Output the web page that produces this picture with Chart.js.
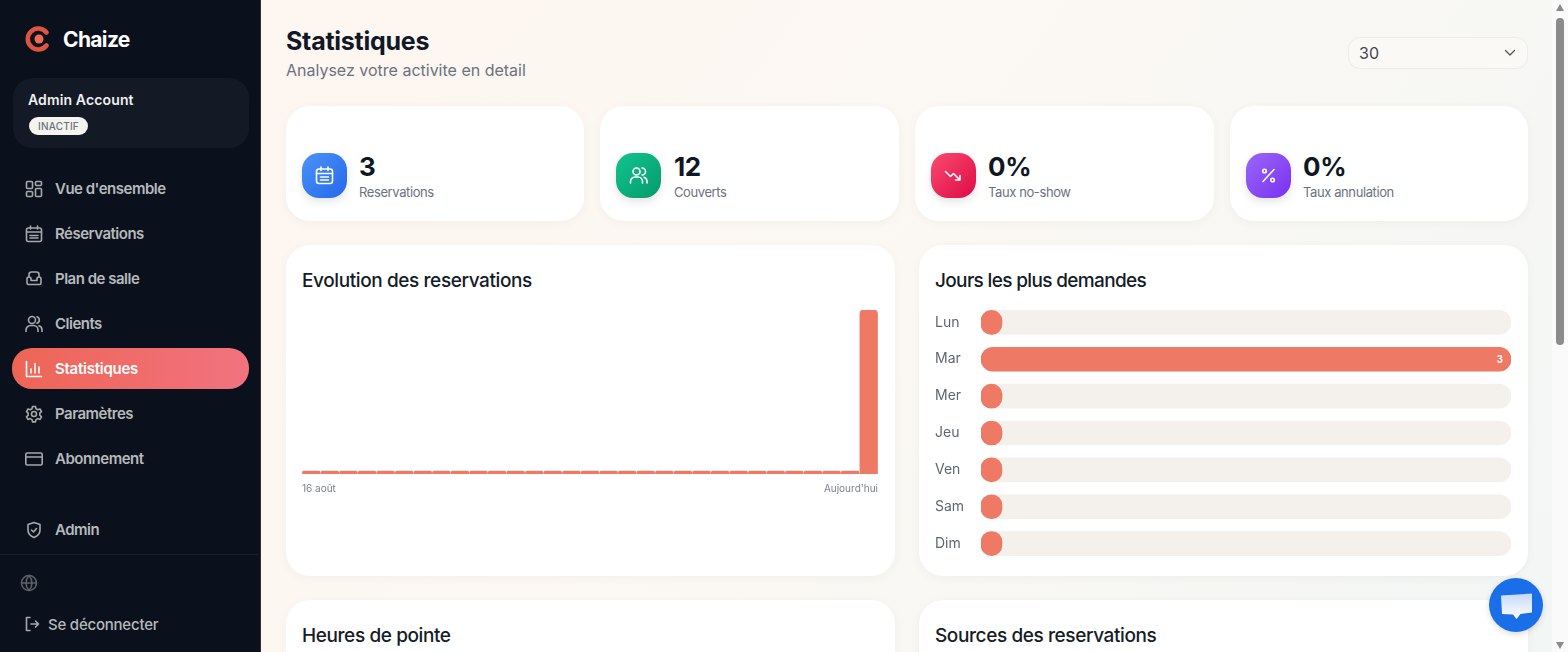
<!DOCTYPE html>
<html lang="fr">
<head>
<meta charset="utf-8">
<title>Statistiques</title>
<script src="https://cdn.jsdelivr.net/npm/chart.js@4"></script>
<style>
    * { box-sizing: border-box; margin: 0; padding: 0; }
    html, body { width: 1568px; height: 652px; overflow: hidden; background: #fff; font-family: Inter, "Noto Sans", sans-serif; }
    .sidebar { position: absolute; left: 0; top: 0; width: 261px; height: 652px; background: #0b111c; border-right: 1px solid #2c313a; }
    .main { position: absolute; left: 261px; top: 0; width: 1291px; height: 652px; background: linear-gradient(125deg, #fef6f0 0%, #fbf8f3 50%, #f2f6f5 100%); }
    .scrollbar { position: absolute; left: 1552px; top: 0; width: 16px; height: 652px; background: #fafafa; }
    .thumb { position: absolute; left: 4px; top: 18px; width: 8px; height: 327px; border-radius: 4px; background: #8b8b8b; }
    .arrow { position: absolute; left: 4px; width: 0; height: 0; border-left: 4.5px solid transparent; border-right: 4.5px solid transparent; }
    .brand { position: absolute; left: 63px; top: 26px; color: #fff; font-size: 21px; font-weight: 700; letter-spacing: -0.65px; line-height: 28px; }
    .account { position: absolute; left: 13px; top: 78px; width: 236px; height: 70px; border-radius: 20px; background: #131a26; }
    .account b { position: absolute; left: 15px; top: 12px; font-size: 14px; font-weight: 600; color: #eef0f2; line-height: 20px; letter-spacing: 0.13px; }
    .badge { position: absolute; left: 16px; top: 39px; width: 59px; height: 18px; border-radius: 9px; background: #f5f3f0; color: #6b7280; font-size: 10px; font-weight: 500; text-align: center; line-height: 18px; letter-spacing: 0.2px; }
    .nav { position: absolute; left: 55px; font-size: 15px; font-weight: 600; color: #b6b9bc; line-height: 20px; letter-spacing: -0.5px; white-space: nowrap; }
    .nav.on { color: #fff; letter-spacing: -0.25px; }
    .pill { position: absolute; left: 12px; top: 348px; width: 237px; height: 41px; border-radius: 20px; background: linear-gradient(90deg, #ed6555, #f2737f); }
    .ico { position: absolute; width: 18px; height: 18px; fill: none; stroke: #a5a8ac; stroke-width: 1.6; stroke-linecap: round; stroke-linejoin: round; }
    .rule { position: absolute; left: 0; top: 554px; width: 258px; height: 1px; background: #1b212c; }
    h1 { position: absolute; left: 286px; top: 24px; font-size: 25px; font-weight: 700; color: #111827; line-height: 34px; letter-spacing: -0.25px; }
    .sub { position: absolute; left: 286px; top: 59px; font-size: 16px; color: #6b7280; line-height: 22px; }
    .select { position: absolute; left: 1348px; top: 37px; width: 180px; height: 32px; border: 1px solid #ececea; border-radius: 12px; background: #fbf9f5; color: #3f4651; font-size: 16px; line-height: 30px; padding-left: 10px; }
    .card { position: absolute; background: #fff; border-radius: 24px; box-shadow: 0 2px 8px rgba(120, 100, 80, .06); }
    .tile { position: absolute; top: 153px; width: 45px; height: 45px; border-radius: 17px; box-shadow: 0 4px 8px rgba(0, 0, 0, .1); }
    .tile svg { position: absolute; left: 12px; top: 12px; width: 21px; height: 21px; fill: none; stroke: #fff; stroke-width: 1.6; stroke-linecap: round; stroke-linejoin: round; }
    .num { position: absolute; top: 151px; font-size: 26px; font-weight: 700; color: #0f1722; line-height: 32px; letter-spacing: -0.4px; }
    .lbl { position: absolute; top: 183px; font-size: 13px; color: #6b7280; line-height: 18px; letter-spacing: -0.4px; }
    .ctitle { position: absolute; font-size: 19px; font-weight: 500; color: #151c28; line-height: 26px; letter-spacing: -0.4px; white-space: nowrap; }
    canvas { position: absolute; }
    .chat { position: absolute; left: 1489px; top: 578px; width: 54px; height: 54px; border-radius: 50%; background: #1a6fe8; box-shadow: 0 2px 6px rgba(0, 0, 0, .15); }
</style>
</head>
<body>

<div class="main"></div>
<div class="scrollbar">
    <div class="arrow" style="top:4px;border-bottom:7px solid #8b8b8b"></div>
    <div class="thumb"></div>
    <div class="arrow" style="top:642px;border-top:7px solid #8b8b8b"></div>
</div>

<!-- Sidebar -->
<div class="sidebar"></div>
<svg style="position:absolute;left:25px;top:26px" width="26" height="26" viewBox="0 0 26 26" fill="none">
    <path d="M21.500 6.500A10.500 10.500 0 1 0 21.500 19.500" stroke="#e0533f" stroke-width="4.500" stroke-linecap="round"/>
    <circle cx="14" cy="13" r="4.500" fill="#ef6a55"/>
</svg>
<div class="brand">Chaize</div>
<div class="account"><b>Admin Account</b><div class="badge">INACTIF</div></div>
<div class="pill"></div>

<svg class="ico" style="left:25px;top:180px" viewBox="0 0 18 18"><rect x="1.500" y="1.500" width="6" height="7" rx="1"/><rect x="10.500" y="1.500" width="6" height="4" rx="1"/><rect x="10.500" y="8.500" width="6" height="8" rx="1"/><rect x="1.500" y="11.500" width="6" height="5" rx="1"/></svg>
<div class="nav" style="top:179px">Vue d'ensemble</div>
<svg class="ico" style="left:25px;top:225px" viewBox="0 0 18 18"><rect x="1.500" y="3" width="15" height="13.500" rx="2"/><path d="M1.500 7h15M5.500 1v3M12.500 1v3M5 10.500h8M5 13h8"/></svg>
<div class="nav" style="top:224px">Réservations</div>
<svg class="ico" style="left:25px;top:270px" viewBox="0 0 18 18"><path d="M4 7V4.500A2.500 2.500 0 0 1 6.500 2h5A2.500 2.500 0 0 1 14 4.500V7M2 9a2 2 0 0 1 4 0v1.500h6V9a2 2 0 0 1 4 0v4a1.500 1.500 0 0 1-1.500 1.500h-11A1.500 1.500 0 0 1 2 13z"/></svg>
<div class="nav" style="top:269px">Plan de salle</div>
<svg class="ico" style="left:25px;top:315px" viewBox="0 0 18 18"><circle cx="7" cy="5" r="3.500"/><path d="M1 16.500v-1.500a4.500 4.500 0 0 1 4.500-4.500h3A4.500 4.500 0 0 1 13 15v1.500M12 1.700a3.500 3.500 0 0 1 0 6.600M17 16.500V15a4.500 4.500 0 0 0-3-4.200"/></svg>
<div class="nav" style="top:314px">Clients</div>
<svg class="ico" style="left:25px;top:360px;stroke:#fff" viewBox="0 0 18 18"><path d="M1.500 1.500v15h15M6 13V9M10 13V3.500M14 13V7"/></svg>
<div class="nav on" style="top:359px">Statistiques</div>
<svg class="ico" style="left:25px;top:405px" viewBox="0 0 18 18"><circle cx="9" cy="9" r="2.500"/><path d="M7.500 1.500h3l.5 2.300 1.800 1 2.200-.8 1.500 2.600-1.700 1.600v2l1.700 1.600-1.500 2.600-2.200-.8-1.800 1-.5 2.300h-3l-.5-2.300-1.800-1-2.200.8-1.500-2.600 1.700-1.600v-2L1.500 6.600 3 4l2.200.8 1.800-1z"/></svg>
<div class="nav" style="top:404px">Paramètres</div>
<svg class="ico" style="left:25px;top:450px" viewBox="0 0 18 18"><rect x="0.800" y="3" width="16.400" height="12" rx="1.500"/><path d="M0.800 7h16.400"/></svg>
<div class="nav" style="top:449px">Abonnement</div>
<svg class="ico" style="left:25px;top:521px" viewBox="0 0 18 18"><path d="M9 1.500l6 2v5.500c0 3.500-2.500 6-6 7.500-3.500-1.500-6-4-6-7.500V3.500z"/><path d="M6.500 9l2 2 3-3.500"/></svg>
<div class="nav" style="top:520px">Admin</div>
<div class="rule"></div>
<svg class="ico" style="left:20px;top:574px;stroke:#5c6068" viewBox="0 0 18 18"><circle cx="9" cy="9" r="7.500"/><path d="M1.500 9h15M9 1.500c4 4.500 4 10.500 0 15M9 1.500c-4 4.500-4 10.500 0 15"/></svg>
<svg class="ico" style="left:24px;top:616px;width:16px;height:16px" viewBox="0 0 16 16"><path d="M6 1.500H2.500v13H6M7 8h7.500M11.500 5l3 3-3 3"/></svg>
<div class="nav" style="left:48px;top:615px;font-weight:500;letter-spacing:-0.22px">Se déconnecter</div>

<!-- Header -->
<h1>Statistiques</h1>
<div class="sub">Analysez votre activite en detail</div>
<div class="select">30
    <svg style="position:absolute;left:155px;top:10px" width="12" height="10" viewBox="0 0 12 10" fill="none"><path d="M1.500 2.500L6 7l4.500-4.500" stroke="#555" stroke-width="1.300" stroke-linecap="round" stroke-linejoin="round"/></svg>
</div>

<!-- Stat cards -->
<div class="card" style="left:286px;top:106px;width:298px;height:115px"></div>
<div class="card" style="left:600px;top:106px;width:299px;height:115px"></div>
<div class="card" style="left:915px;top:106px;width:299px;height:115px"></div>
<div class="card" style="left:1230px;top:106px;width:298px;height:115px"></div>

<div class="tile" style="left:302px;background:linear-gradient(135deg,#4b93f8,#2468ea)">
    <svg viewBox="0 0 21 21"><rect x="2.500" y="4" width="16" height="14.500" rx="2.500"/><path d="M2.500 8.500h16M7 2v3.500M14 2v3.500M6.500 12h8M6.500 15h8"/></svg>
</div>
<div class="num" style="left:359px">3</div>
<div class="lbl" style="left:359px">Reservations</div>

<div class="tile" style="left:616px;background:linear-gradient(135deg,#12c58d,#059a6b)">
    <svg viewBox="0 0 21 21"><circle cx="8.500" cy="6.500" r="3.500"/><path d="M2.500 18v-1.500a4.500 4.500 0 0 1 4.500-4.500h3a4.500 4.500 0 0 1 4.500 4.500V18M14 3a3.500 3.500 0 0 1 0 7M19 18v-1.500a4.500 4.500 0 0 0-3-4.200"/></svg>
</div>
<div class="num" style="left:674px">12</div>
<div class="lbl" style="left:674px">Couverts</div>

<div class="tile" style="left:931px;background:linear-gradient(135deg,#fb4a6e,#dd0b47)">
    <svg viewBox="0 0 21 21"><path d="M2.500 6.500l5 5 3-3 6.500 6.500M17 10.500V15h-4.500"/></svg>
</div>
<div class="num" style="left:988px">0%</div>
<div class="lbl" style="left:988px">Taux no-show</div>

<div class="tile" style="left:1246px;background:linear-gradient(135deg,#9a68f8,#7a2ff0)">
    <svg viewBox="0 0 21 21"><path d="M16 4.500L5 16.500"/><circle cx="6.500" cy="6" r="1.800"/><circle cx="14.500" cy="15" r="1.800"/></svg>
</div>
<div class="num" style="left:1303px">0%</div>
<div class="lbl" style="left:1303px">Taux annulation</div>

<!-- Chart cards -->
<div class="card" style="left:286px;top:245px;width:609px;height:331px"></div>
<div class="card" style="left:919px;top:245px;width:609px;height:331px"></div>
<div class="ctitle" style="left:302px;top:268px">Evolution des reservations</div>
<div class="ctitle" style="left:935px;top:268px;letter-spacing:-0.65px">Jours les plus demandes</div>
<canvas id="trendChart" width="576" height="190" style="left:302px;top:310px"></canvas>
<canvas id="daysChart" width="576" height="258" style="left:935px;top:304px"></canvas>

<!-- Next row, cut off by the window -->
<div class="card" style="left:286px;top:600px;width:609px;height:120px"></div>
<div class="card" style="left:919px;top:600px;width:609px;height:120px"></div>
<div class="ctitle" style="left:302px;top:623px">Heures de pointe</div>
<div class="ctitle" style="left:935px;top:623px">Sources des reservations</div>

<div class="chat">
    <svg style="position:absolute;left:11px;top:13px" width="33" height="30" viewBox="0 0 33 30">
        <defs><linearGradient id="bubble" x1="0" y1="0" x2="0" y2="1"><stop offset="0" stop-color="#c6d9f8"/><stop offset="1" stop-color="#fff"/></linearGradient></defs>
        <path d="M1 4.500L32 2.500V21.500L20.500 23 16.500 28 13 23.500 2 23z" fill="url(#bubble)"/>
    </svg>
</div>

<script>
// Daily reservations, last 30 days
const trendLabels = [
    '16 août', '17 août', '18 août', '19 août', '20 août', '21 août', '22 août', '23 août',
    '24 août', '25 août', '26 août', '27 août', '28 août', '29 août', '30 août', '31 août',
    '1 sept', '2 sept', '3 sept', '4 sept', '5 sept', '6 sept', '7 sept', '8 sept',
    '9 sept', '10 sept', '11 sept', '12 sept', '13 sept', '14 sept', "Aujourd'hui"
];
const trendValues = [
    0, 0, 0, 0, 0, 0, 0, 0,
    0, 0, 0, 0, 0, 0, 0, 0,
    0, 0, 0, 0, 0, 0, 0, 0,
    0, 0, 0, 0, 0, 0, 3
];

// Reservations per weekday
const dayLabels = ['Lun', 'Mar', 'Mer', 'Jeu', 'Ven', 'Sam', 'Dim'];
const dayValues = [0, 3, 0, 0, 0, 0, 0];
const dayTrack = [3, 3, 3, 3, 3, 3, 3];

const BAR_COLOR = '#ee7a65';
const TRACK_COLOR = '#f4f1ed';
const FONT = 'Inter, "Noto Sans", sans-serif';

// Writes the value inside the bars that are long enough to hold it
const barValueLabels = {
    id: 'barValueLabels',
    afterDatasetsDraw(chart) {
        const ctx = chart.ctx;
        chart.getDatasetMeta(1).data.forEach((bar, i) => {
            if (!dayValues[i]) return;
            ctx.save();
            ctx.font = `700 10px ${FONT}`;
            ctx.fillStyle = '#fff';
            ctx.textAlign = 'right';
            ctx.textBaseline = 'middle';
            ctx.fillText(dayValues[i], bar.x - 8, bar.y + 0.5);
            ctx.restore();
        });
    }
};

function renderTrend() {
    new Chart(document.getElementById('trendChart'), {
        type: 'bar',
        data: {
            labels: trendLabels,
            datasets: [{
                data: trendValues,
                backgroundColor: BAR_COLOR,
                barThickness: 17.6,
                minBarLength: 3,
                borderRadius: { topLeft: 4, topRight: 4 },
                borderSkipped: false
            }]
        },
        options: {
            responsive: false,
            animation: false,
            layout: { padding: 0, autoPadding: false },
            plugins: { legend: { display: false }, tooltip: { enabled: false } },
            scales: {
                y: { display: false, min: 0, max: 3 },
                x: { display: false },
                // Date labels sit at the plot edges, not under the bar centres
                edges: {
                    type: 'linear',
                    axis: 'x',
                    position: 'bottom',
                    offset: false,
                    min: 0,
                    max: 1,
                    afterFit: (axis) => {
                        axis.height = 26;
                        axis.paddingLeft = 0;
                        axis.paddingRight = 0;
                    },
                    grid: { display: false, drawTicks: false },
                    border: { display: false },
                    ticks: {
                        stepSize: 1,
                        maxRotation: 0,
                        align: 'inner',
                        padding: 9,
                        color: '#7b818b',
                        font: { family: FONT, size: 10 },
                        callback: (v) => v === 0 ? trendLabels[0] : trendLabels[trendLabels.length - 1]
                    }
                }
            }
        }
    });
}

function renderDays() {
    new Chart(document.getElementById('daysChart'), {
        type: 'bar',
        data: {
            labels: dayLabels,
            datasets: [
                // Track first, so the value bar sits on top of it
                { data: dayTrack, backgroundColor: TRACK_COLOR, order: 2 },
                { data: dayValues, backgroundColor: BAR_COLOR, minBarLength: 21, order: 1 }
            ]
        },
        plugins: [barValueLabels],
        options: {
            indexAxis: 'y',
            responsive: false,
            animation: false,
            layout: { padding: 0, autoPadding: false },
            datasets: { bar: { grouped: false, barThickness: 24, borderRadius: 12, borderSkipped: false } },
            plugins: { legend: { display: false }, tooltip: { enabled: false } },
            scales: {
                x: { display: false, min: 0, max: 3 },
                y: {
                    // Rows fill the whole canvas height, no room kept for half a label
                    afterFit: (axis) => {
                        axis.width = 46;
                        axis.paddingTop = 0;
                        axis.paddingBottom = 0;
                    },
                    grid: { display: false, drawTicks: false },
                    border: { display: false },
                    ticks: {
                        crossAlign: 'far',
                        padding: 0,
                        color: '#5f6672',
                        font: { family: FONT, size: 14 }
                    }
                }
            }
        }
    });
}

renderTrend();
renderDays();
</script>
</body>
</html>
